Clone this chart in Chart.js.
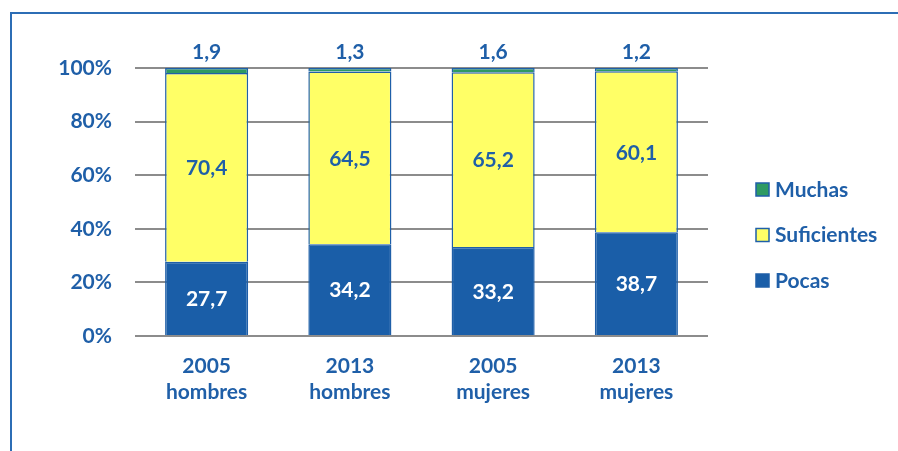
<!DOCTYPE html>
<html>
<head>
<meta charset="utf-8">
<script src="https://cdn.jsdelivr.net/npm/chart.js@4/dist/chart.umd.min.js"></script>
<style>
  html, body { margin: 0; padding: 0; background: #fff; }
  #wrap { position: relative; width: 898px; height: 451px; overflow: hidden; }
  #frame { position: absolute; left: 10px; top: 12px; right: -5px; bottom: -5px;
           border-left: 2px solid #2C6DB5; border-top: 2px solid #2C6DB5; }
  canvas { position: absolute; left: 0; top: 0; }
</style>
</head>
<body>
<div id="wrap">
  <div id="frame"></div>
  <canvas id="chart" width="898" height="451"></canvas>
</div>
<script>
// categories and series (percentages)
const categories = [["2005", "hombres"], ["2013", "hombres"], ["2005", "mujeres"], ["2013", "mujeres"]];
const pocas = [27.7, 34.2, 33.2, 38.7];
const suficientes = [70.4, 64.5, 65.2, 60.1];
const muchas = [1.9, 1.3, 1.6, 1.2];
const yTicks = [0, 20, 40, 60, 80, 100];

const BLUE = "#1F5FA8";
const FONT = "Lato, 'Open Sans', sans-serif";
const FSIZE = 21;

// value labels on the bars
const barLabels = {
  id: "barLabels",
  afterDatasetsDraw(chart) {
    const ctx = chart.ctx;
    ctx.save();
    ctx.font = "bold " + FSIZE + "px " + FONT;
    ctx.textAlign = "center";
    chart.data.datasets.forEach((ds, i) => {
      const meta = chart.getDatasetMeta(i);
      meta.data.forEach((bar, j) => {
        const txt = ds.data[j].toFixed(1).replace(".", ",");
        if (ds.label === "Muchas") {
          ctx.fillStyle = BLUE;
          ctx.textBaseline = "bottom";
          ctx.fillText(txt, bar.x, bar.y - 5);
        } else {
          ctx.fillStyle = ds.label === "Pocas" ? "#ffffff" : BLUE;
          ctx.textBaseline = "middle";
          ctx.fillText(txt, bar.x, (bar.y + bar.base) / 2 + 1);
        }
      });
    });
    ctx.restore();
  }
};

// legend on the right, drawn from dataset styles
const sideLegend = {
  id: "sideLegend",
  afterDraw(chart) {
    const ctx = chart.ctx;
    const order = [2, 1, 0];
    ctx.save();
    ctx.font = "bold " + FSIZE + "px " + FONT;
    ctx.textBaseline = "middle";
    ctx.textAlign = "left";
    order.forEach((idx, k) => {
      const ds = chart.data.datasets[idx];
      const y = 189 + k * 45.5;
      ctx.fillStyle = ds.backgroundColor;
      ctx.fillRect(756, y - 6, 13, 13);
      ctx.strokeStyle = BLUE;
      ctx.lineWidth = 1.5;
      ctx.strokeRect(756, y - 6, 13, 13);
      ctx.fillStyle = BLUE;
      ctx.fillText(ds.label, 775, y + 1);
    });
    ctx.restore();
  }
};

new Chart(document.getElementById("chart"), {
  type: "bar",
  data: {
    labels: categories,
    datasets: [
      { label: "Pocas", data: pocas, backgroundColor: "#1A5EA8", borderColor: BLUE, borderWidth: 1.5 },
      { label: "Suficientes", data: suficientes, backgroundColor: "#FFFF66", borderColor: BLUE, borderWidth: 1.5 },
      { label: "Muchas", data: muchas, backgroundColor: "#2E9A62", borderColor: BLUE, borderWidth: 1.5 }
    ]
  },
  options: {
    responsive: false,
    animation: false,
    datasets: { bar: { barPercentage: 0.58, categoryPercentage: 1 } },
    layout: { padding: { top: 68, right: 190, left: 0, bottom: 0 } },
    plugins: { legend: { display: false }, tooltip: { enabled: false } },
    scales: {
      x: {
        stacked: true,
        grid: { display: false },
        border: { display: false },
        ticks: { color: BLUE, font: { family: FONT, size: FSIZE, weight: "bold", lineHeight: 1.25 }, padding: 9 },
        afterFit(scale) { scale.height = 115; }
      },
      y: {
        stacked: true,
        min: 0,
        max: 100,
        afterBuildTicks(scale) { scale.ticks = yTicks.map(v => ({ value: v })); },
        grid: { color: "#8C8C8C", lineWidth: 2, drawTicks: false },
        border: { display: false },
        ticks: {
          color: BLUE, padding: 23,
          font: { family: FONT, size: FSIZE, weight: "bold" },
          callback: v => v + "%"
        },
        afterFit(scale) { scale.width = 135; }
      }
    }
  },
  plugins: [barLabels, sideLegend]
});
</script>
</body>
</html>
